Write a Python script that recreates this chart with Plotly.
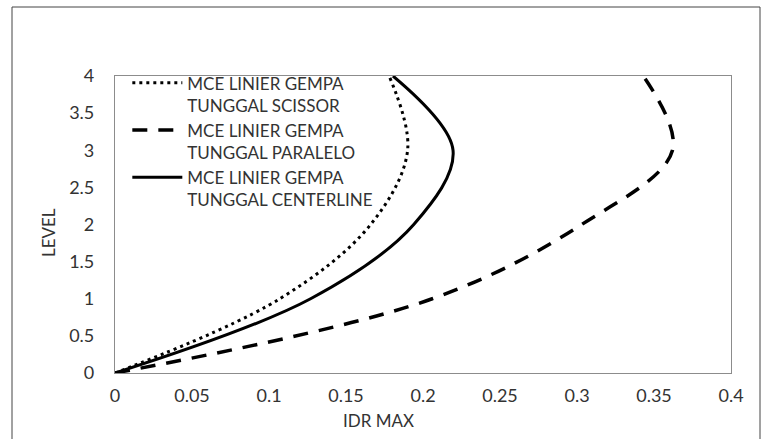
import plotly.graph_objects as go

# Storey levels and maximum inter-storey drift ratio for each layout
levels = [0, 1, 2, 3, 4]
idr_scissor = [0.0, 0.107, 0.166, 0.190, 0.178]
idr_paralelo = [0.0, 0.206, 0.303, 0.362, 0.343]
idr_centerline = [0.0, 0.127, 0.194, 0.2195, 0.1805]

names = [
    "MCE LINIER GEMPA<br>TUNGGAL SCISSOR",
    "MCE LINIER GEMPA<br>TUNGGAL PARALELO",
    "MCE LINIER GEMPA<br>TUNGGAL CENTERLINE",
]

x_ticks = [0, 0.05, 0.1, 0.15, 0.2, 0.25, 0.3, 0.35, 0.4]
y_ticks = [0, 0.5, 1, 1.5, 2, 2.5, 3, 3.5, 4]

FONT = "Lato"
TEXT = "#333333"

fig = go.Figure()
series = [
    (idr_scissor, names[0], "3px,4px", 3),
    (idr_paralelo, names[1], "15px,11px", 3.5),
    (idr_centerline, names[2], "solid", 3),
]
for vals, name, dash, w in series:
    fig.add_trace(go.Scatter(
        x=vals, y=levels, name=name, mode="lines",
        line=dict(color="black", width=w, dash=dash, shape="spline", smoothing=1.0),
    ))

fig.update_layout(
    width=771, height=439,
    margin=dict(l=115, r=40, t=76, b=66),
    paper_bgcolor="white", plot_bgcolor="white",
    font=dict(family=FONT, size=17, color=TEXT),
    showlegend=True,
    legend=dict(
        x=0.02, y=1.036, xanchor="left", yanchor="top",
        bgcolor="rgba(0,0,0,0)", borderwidth=0,
        font=dict(family=FONT, size=17, color=TEXT),
        valign="top", itemwidth=50, tracegroupgap=0,
    ),
    xaxis=dict(
        range=[0, 0.4], tickvals=x_ticks, showgrid=False, zeroline=False,
        showline=True, mirror=True, linecolor="#8c8c8c", linewidth=1.2,
        ticks="", ticklabelstandoff=6,
        tickfont=dict(family=FONT, size=18, color=TEXT),
    ),
    yaxis=dict(
        range=[0, 4], tickvals=y_ticks, showgrid=False, zeroline=False,
        showline=True, mirror=True, linecolor="#8c8c8c", linewidth=1.2,
        ticks="", ticklabelstandoff=16,
        tickfont=dict(family=FONT, size=18, color=TEXT),
    ),
    annotations=[
        dict(text="IDR MAX", xref="paper", yref="paper",
             x=(378 - 115) / 616, y=-(420 - 373) / 297,
             xanchor="center", yanchor="middle", showarrow=False,
             font=dict(family=FONT, size=17, color=TEXT)),
        dict(text="LEVEL", xref="paper", yref="paper",
             x=-(115 - 49) / 616, y=(373 - 233) / 297,
             xanchor="center", yanchor="middle", showarrow=False, textangle=-90,
             font=dict(family=FONT, size=17, color=TEXT)),
    ],
    shapes=[
        dict(type="rect", xref="paper", yref="paper",
             x0=-(115 - 12) / 616, x1=(760 - 115) / 616,
             y0=-(460 - 373) / 297, y1=(373 - 7) / 297,
             line=dict(color="#444444", width=1), fillcolor="rgba(0,0,0,0)",
             layer="below"),
    ],
)

fig.write_html("out.html")
